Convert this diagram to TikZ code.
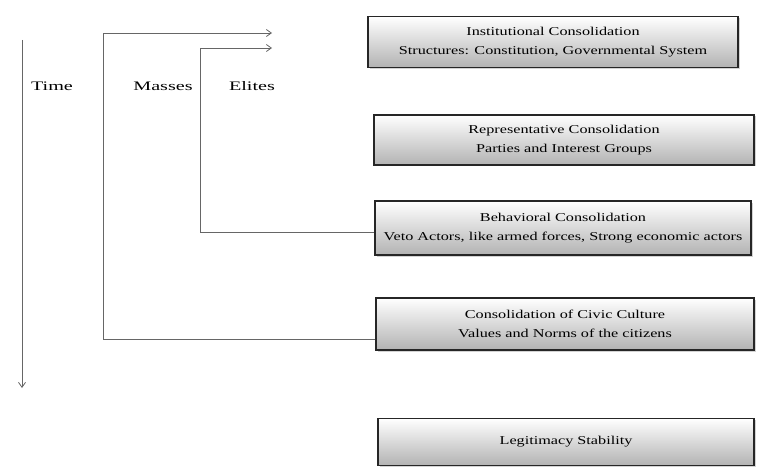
\documentclass[tikz,border=0pt]{standalone}
\usepackage{fontspec}
\setmainfont{Liberation Serif}
\newfontfamily\boxfont[FakeStretch=1.35]{Liberation Serif}
\newfontfamily\lblfont[FakeStretch=1.55]{Liberation Serif}
\usetikzlibrary{arrows.meta,shadows}
\begin{document}
\begin{tikzpicture}[x=1pt,y=-1pt,
  levelbox/.style={draw=black!85,line width=1.3pt,top color=white,bottom color=black!30,
    align=center,inner sep=0pt,font=\boxfont\fontsize{12}{19}\selectfont,
    drop shadow={shadow xshift=1.5pt,shadow yshift=-1.5pt,opacity=0.35}},
  conn/.style={draw=black!60,line width=0.8pt},
  lbl/.style={font=\lblfont\fontsize{13}{15}\selectfont,inner sep=0pt}]
\useasboundingbox (0,0) rectangle (758,468);
\node[levelbox,minimum width=370pt,minimum height=51pt] (b1) at (553,42)
  {Institutional Consolidation\\Structures: Constitution, Governmental System};
\node[levelbox,minimum width=380pt,minimum height=50pt] (b2) at (564,140)
  {Representative Consolidation\\Parties and Interest Groups};
\node[levelbox,minimum width=376pt,minimum height=54pt] (b3) at (563,228)
  {Behavioral Consolidation\\Veto Actors, like armed forces, Strong economic actors};
\node[levelbox,minimum width=378pt,minimum height=52pt] (b4) at (565,324)
  {Consolidation of Civic Culture\\Values and Norms of the citizens};
\node[levelbox,minimum width=376pt,minimum height=47pt] (b5) at (566,442)
  {Legitimacy Stability};
\node[lbl] (time) at (52,86) {Time};
\node[lbl] (masses) at (163,86) {Masses};
\node[lbl] (elites) at (252,86) {Elites};
\coordinate (t0) at (22,40);
\coordinate (t1) at (22,388);
\coordinate (mtop) at (272,33);
\coordinate (etop) at (272,48);
\draw[conn,-{Straight Barb[length=5pt,width=7pt]}] (t0) -- (t1);
\draw[conn,-{Straight Barb[length=5pt,width=7pt]}] ([yshift=11pt]b4.south west) -| (103,33) -- (mtop);
\draw[conn,-{Straight Barb[length=5pt,width=7pt]}] ([yshift=-4pt]b3.west) -| (200,48) -- (etop);
\end{tikzpicture}
\end{document}
